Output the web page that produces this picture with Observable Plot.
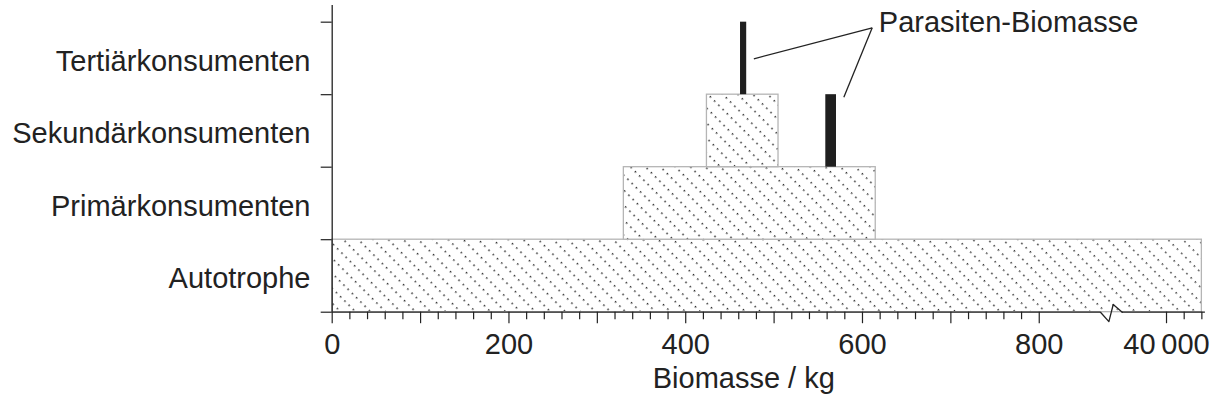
<!DOCTYPE html>
<html>
<head>
<meta charset="utf-8">
<script src="https://cdn.jsdelivr.net/npm/d3@7"></script>
<script src="https://cdn.jsdelivr.net/npm/@observablehq/plot@0.6"></script>
<style>
  html, body { margin: 0; padding: 0; background: #fff; }
  #chart svg { display: block; }
</style>
</head>
<body>
<div id="chart"></div>
<script>
// ---- data ----
const levels = ["Autotrophe", "Primärkonsumenten", "Sekundärkonsumenten", "Tertiärkonsumenten"];

const barLevels = ["Autotrophe", "Primärkonsumenten", "Sekundärkonsumenten"];
const barFrom = [0, 330, 424];          // kg
const barTo = [40040, 615, 505];        // kg

const parasiteLevels = ["Tertiärkonsumenten", "Sekundärkonsumenten"];
const parasiteFrom = [462, 558.5];      // kg
const parasiteTo = [469, 570.6];        // kg

const majorTicks = [0, 100, 200, 300, 400, 500, 600, 700, 800, 40000];
const minorTicks = [20, 40, 60, 80, 120, 140, 160, 180, 220, 240, 260, 280, 320, 340, 360, 380,
  420, 440, 460, 480, 520, 540, 560, 580, 620, 640, 660, 680, 720, 740, 760, 780, 40020, 40040];
const labelTicks = [0, 200, 400, 600, 800, 40000];
const tickLabels = ["0", "200", "400", "600", "800", "40\u2009000"];

// axis break (kg on the shortened axis), zig-zag in level units
const axisSegments = [[0, 869.3], [893.9, 40044]];
const breakX = [869.3, 878.8, 883.7, 893.9];
const breakY = [0, -0.13, 0.106, 0];

// annotation
const calloutLabel = "Parasiten-Biomasse";
const calloutApex = [611, 3.923];
const calloutTargetX = [477.1, 578.9];
const calloutTargetY = [3.495, 2.966];
const xLabel = "Biomasse / kg";
const xLabelAt = 465.7;

// ---- broken scale: values from 40000 on are moved next to the break ----
const breakFrom = 40000, breakShift = 944;
const bx = v => (v >= breakFrom ? v - breakFrom + breakShift : v);

const bars = barLevels.map((l, i) => ({level: levels.indexOf(l), from: barFrom[i], to: barTo[i]}));
const parasites = parasiteLevels.map((l, i) => ({level: levels.indexOf(l), from: parasiteFrom[i], to: parasiteTo[i]}));
const breakPts = breakX.map((x, i) => ({x, y: breakY[i]}));
const callouts = calloutTargetX.map((x, i) => ({x, y: calloutTargetY[i]}));

const ink = "#222";
const font = 29;

const chart = Plot.plot({
  width: 1213,
  height: 408,
  marginLeft: 331.7,
  marginRight: 8.1,
  marginTop: 5,
  marginBottom: 96.3,
  style: {fontFamily: "'Liberation Sans', Arial, Helvetica, sans-serif", fontSize: font + "px", color: ink, background: "#fff"},
  x: {type: "linear", domain: [0, bx(40044)]},
  y: {type: "linear", domain: [0, 4.23]},
  marks: [
    Plot.rect(bars, {x1: d => bx(d.from), x2: d => bx(d.to), y1: d => d.level, y2: d => d.level + 1,
      fill: "url(#hatch)", stroke: "#b5b5b5", strokeWidth: 1.3}),
    Plot.rect(parasites, {x1: d => bx(d.from), x2: d => bx(d.to), y1: d => d.level, y2: d => d.level + 1,
      fill: "#1f1f1f"}),
    // axes
    Plot.ruleX([0], {stroke: ink, strokeWidth: 1.3}),
    Plot.ruleY(axisSegments, {y: 0, x1: d => bx(d[0]), x2: d => bx(d[1]), stroke: ink, strokeWidth: 1.3}),
    Plot.line(breakPts, {x: d => bx(d.x), y: "y", stroke: ink, strokeWidth: 1.3}),
    Plot.axisY([0, 1, 2, 3, 4], {tickSize: 11, tickFormat: () => "", label: null, stroke: ink, strokeWidth: 1.2}),
    Plot.text(levels, {x: 0, y: (d, i) => i + 0.5, text: d => d, textAnchor: "end", dx: -21.7, dy: 3,
      fontSize: font, fill: ink}),
    Plot.axisX(majorTicks.map(bx), {tickSize: 11.5, tickFormat: () => "", label: null, stroke: ink, strokeWidth: 1.2}),
    Plot.axisX(minorTicks.map(bx), {tickSize: 7.5, tickFormat: () => "", label: null, stroke: ink, strokeWidth: 1.2}),
    Plot.axisX(labelTicks.map(bx), {tickSize: 0, tickPadding: 21,
      tickFormat: v => tickLabels[labelTicks.map(bx).indexOf(v)], label: null, fontSize: font, fill: ink}),
    Plot.text([xLabel], {x: bx(xLabelAt), frameAnchor: "bottom", dy: 75.7, text: d => d, fontSize: font, fill: ink}),
    // annotation
    Plot.link(callouts, {x1: bx(calloutApex[0]), y1: calloutApex[1], x2: d => bx(d.x), y2: "y", stroke: ink, strokeWidth: 1.3}),
    Plot.text([calloutLabel], {x: bx(618.5), y: 3.99, text: d => d, textAnchor: "start", fontSize: font, fill: ink})
  ]
});

// hatch pattern: dotted diagonal lines
const defs = d3.select(chart).insert("defs", ":first-child");
const pat = defs.append("pattern")
  .attr("id", "hatch")
  .attr("patternUnits", "userSpaceOnUse")
  .attr("width", 6)
  .attr("height", 10.6)
  .attr("patternTransform", "rotate(45)");
pat.append("rect").attr("width", 6).attr("height", 10.6).attr("fill", "#fff");
pat.append("rect").attr("x", 0).attr("y", 0).attr("width", 1.5).attr("height", 1.5).attr("fill", "#2a2a2a");

document.getElementById("chart").appendChild(chart);
</script>
</body>
</html>
